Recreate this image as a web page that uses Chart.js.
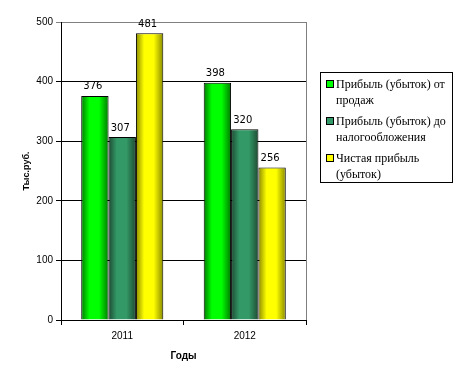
<!DOCTYPE html>
<html><head><meta charset="utf-8">
<script src="https://cdn.jsdelivr.net/npm/chart.js@4/dist/chart.umd.min.js"></script>
<style>
html,body{margin:0;padding:0;background:#fff;}
#wrap{position:relative;width:468px;height:378px;}
#legend{position:absolute;left:320px;top:72px;width:133px;height:111px;border:1px solid #000;box-sizing:border-box;font-family:"Liberation Serif","Times New Roman",serif;font-size:12px;line-height:16px;color:#000;padding:3px 0 0 5px;}
.item{position:relative;padding-left:10px;margin-bottom:5px;}
.sw{position:absolute;left:0;top:4px;width:6px;height:6px;border:1px solid #000;}
</style></head>
<body><div id="wrap"><canvas id="c" width="468" height="378"></canvas>
<div id="legend"></div></div>
<script>
const categories = ['2011', '2012'];
const seriesNames = ['Прибыль (убыток) от продаж', 'Прибыль (убыток) до налогообложения', 'Чистая прибыль (убыток)'];
const salesProfit = [376, 398];
const preTaxProfit = [307, 320];
const netProfit = [481, 256];
const yTicks = [0, 100, 200, 300, 400, 500];

const palette = [
  {dark:'#007a00', bright:'#00ff00', sw:'#00ff00'},
  {dark:'#1d4a33', bright:'#339966', sw:'#339966'},
  {dark:'#8a8a00', bright:'#ffff00', sw:'#ffff00'}
];

function grad(i){
  return function(ctx){
    const chart = ctx.chart;
    const meta = chart.getDatasetMeta(ctx.datasetIndex);
    const el = meta.data[ctx.dataIndex];
    const p = palette[i];
    if(!el || !el.width) return p.bright;
    const x0 = el.x - el.width/2, x1 = el.x + el.width/2;
    const g = chart.ctx.createLinearGradient(x0,0,x1,0);
    g.addColorStop(0,p.dark);
    g.addColorStop(0.3,p.bright);
    g.addColorStop(0.65,p.bright);
    g.addColorStop(1,p.dark);
    return g;
  };
}

const series = [salesProfit, preTaxProfit, netProfit];
const datasets = series.map((d,i)=>({
  label: seriesNames[i], data: d, backgroundColor: grad(i),
  borderColor:'#000', borderWidth:1, borderSkipped:'bottom',
  categoryPercentage:0.67, barPercentage:1.0
}));

const frame = {
  id:'frame',
  afterDraw(chart){
    const {ctx, chartArea:a} = chart;
    ctx.save();
    ctx.strokeStyle='#808080'; ctx.lineWidth=1;
    ctx.beginPath(); ctx.moveTo(a.right+0.5,a.top); ctx.lineTo(a.right+0.5,a.bottom); ctx.stroke();
    ctx.fillStyle='#000'; ctx.font='10px "DejaVu Sans", sans-serif';
    ctx.textAlign='center'; ctx.textBaseline='bottom';
    chart.data.datasets.forEach((ds,di)=>{
      chart.getDatasetMeta(di).data.forEach((el,j)=>{
        ctx.fillText(String(ds.data[j]), el.x-2, el.y-4);
      });
    });
    ctx.restore();
  }
};

const chart = new Chart(document.getElementById('c'), {
  type:'bar',
  data:{labels:categories, datasets},
  options:{
    responsive:false, animation:false,
    layout:{padding:{left:17,right:162,top:22,bottom:12}},
    plugins:{legend:{display:false}, tooltip:{enabled:false}},
    scales:{
      x:{
        grid:{display:true, drawOnChartArea:false, offset:true, color:'#000', tickLength:5},
        border:{color:'#000'},
        ticks:{color:'#000', font:{family:'"Liberation Sans", Arial', size:10}, padding:5},
        title:{display:true, text:'Годы', color:'#000', font:{family:'"Liberation Sans", Arial', size:10, weight:'bold'}, padding:{top:13}},
        afterFit(s){ s.height = 46; }
      },
      y:{
        min:0, max:500,
        afterBuildTicks(s){ s.ticks = yTicks.map(v=>({value:v})); },
        grid:{color:(c)=> c.tick && c.tick.value===500 ? '#808080' : '#000', tickLength:5},
        border:{color:'#000'},
        ticks:{color:'#000', font:{family:'"Liberation Sans", Arial', size:10}, padding:3},
        title:{display:true, text:'Тыс.руб.', color:'#000', font:{family:'"Liberation Sans", Arial', size:9, weight:'bold'}, padding:{bottom:8}},
        afterFit(s){ s.width = 44; }
      }
    }
  },
  plugins:[frame]
});
chart.update();

const lg = document.getElementById('legend');
seriesNames.forEach((n,i)=>{
  const d=document.createElement('div'); d.className='item';
  d.innerHTML='<span class="sw" style="background:'+palette[i].sw+'"></span>'+n;
  lg.appendChild(d);
});
</script></body></html>
